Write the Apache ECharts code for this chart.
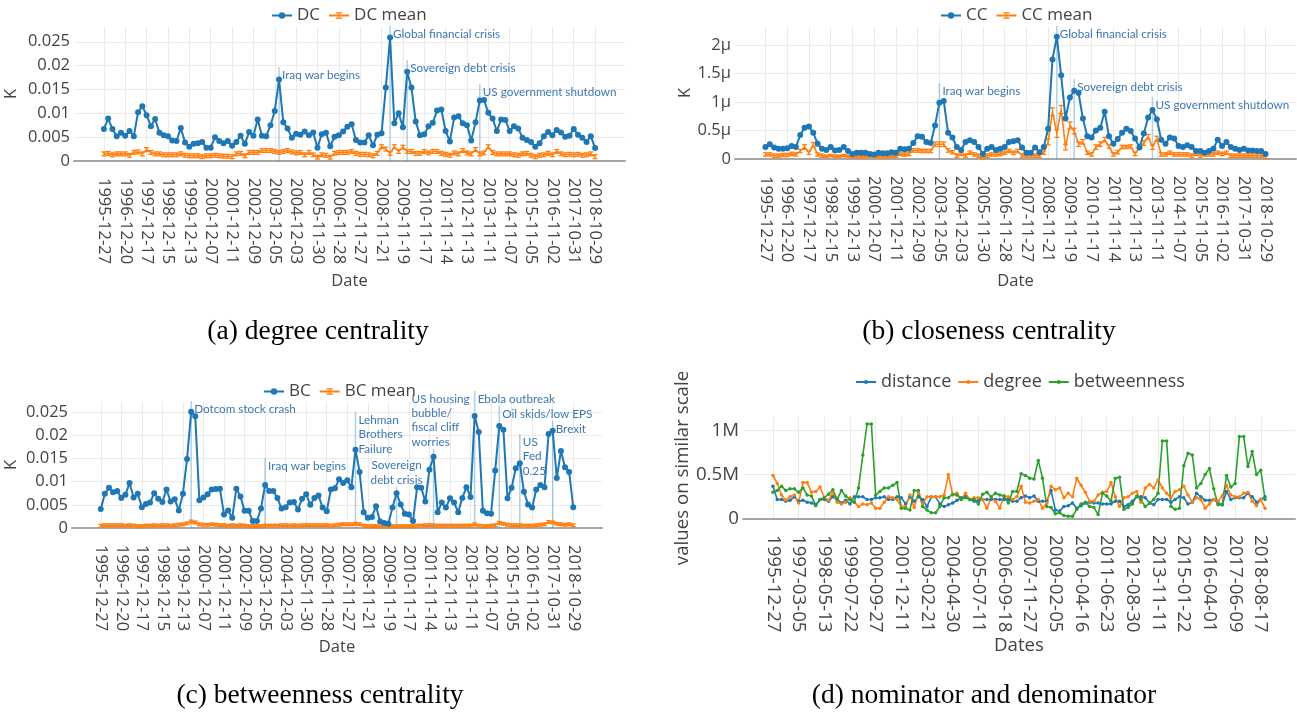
<!DOCTYPE html>
<html>
<head>
<meta charset="utf-8">
<script src="https://cdn.jsdelivr.net/npm/echarts@6/dist/echarts.min.js"></script>
<style>
  html, body { margin: 0; padding: 0; background: #ffffff; }
  #chart { width: 1297px; height: 714px; }
</style>
</head>
<body>
<div id="chart"></div>
<script>
// Sampling dates of the network snapshots
const dates = [
  '1995-12-27','1996-03-08','1996-05-20','1996-07-31','1996-10-09','1996-12-20','1997-03-05','1997-05-15','1997-07-28','1997-10-06',
  '1997-12-17','1998-03-02','1998-05-13','1998-07-24','1998-10-02','1998-12-15','1999-02-26','1999-05-11','1999-07-22','1999-09-30',
  '1999-12-13','2000-02-24','2000-05-05','2000-07-18','2000-09-27','2000-12-07','2001-02-22','2001-05-04','2001-07-17','2001-09-27',
  '2001-12-11','2002-02-25','2002-05-07','2002-07-18','2002-09-26','2002-12-09','2003-02-21','2003-05-05','2003-07-16','2003-09-24',
  '2003-12-05','2004-02-18','2004-04-30','2004-07-13','2004-09-22','2004-12-03','2005-02-16','2005-04-28','2005-07-11','2005-09-20',
  '2005-11-30','2006-02-13','2006-04-26','2006-07-07','2006-09-18','2006-11-28','2007-02-09','2007-04-24','2007-07-05','2007-09-14',
  '2007-11-27','2008-02-08','2008-04-22','2008-07-02','2008-09-12','2008-11-21','2009-02-05','2009-04-20','2009-06-30','2009-09-10',
  '2009-11-19','2010-02-03','2010-04-16','2010-06-28','2010-09-08','2010-11-17','2011-02-01','2011-04-12','2011-06-23','2011-09-02',
  '2011-11-14','2012-01-27','2012-04-10','2012-06-20','2012-08-30','2012-11-13','2013-01-28','2013-04-10','2013-06-20','2013-08-30',
  '2013-11-11','2014-01-24','2014-04-07','2014-06-17','2014-08-27','2014-11-07','2015-01-22','2015-04-06','2015-06-16','2015-08-26',
  '2015-11-05','2016-01-20','2016-04-01','2016-06-13','2016-08-23','2016-11-02','2017-01-17','2017-03-30','2017-06-09','2017-08-21',
  '2017-10-31','2018-01-12','2018-03-27','2018-06-07','2018-08-17','2018-10-29'
];

// (a) degree centrality
const dc = [
  0.0067,0.0089,0.0067,0.0052,0.0059,0.0053,0.0063,0.0052,0.0102,0.0115,
  0.0096,0.0073,0.0088,0.0059,0.0054,0.0052,0.0043,0.0042,0.0069,0.0039,
  0.0030,0.0036,0.0037,0.0040,0.0028,0.0028,0.0050,0.0042,0.0037,0.0042,
  0.0032,0.0040,0.0053,0.0036,0.0061,0.0053,0.0087,0.0053,0.0052,0.0075,
  0.0105,0.0171,0.0081,0.0068,0.0049,0.0057,0.0055,0.0062,0.0054,0.0060,
  0.0028,0.0056,0.0059,0.0031,0.0051,0.0054,0.0062,0.0072,0.0077,0.0044,
  0.0039,0.0039,0.0054,0.0033,0.0055,0.0058,0.0154,0.0259,0.0079,0.0100,
  0.0071,0.0187,0.0154,0.0083,0.0054,0.0056,0.0073,0.0080,0.0106,0.0108,
  0.0063,0.0041,0.0091,0.0094,0.0079,0.0075,0.0043,0.0081,0.0127,0.0128,
  0.0101,0.0089,0.0063,0.0087,0.0086,0.0063,0.0073,0.0068,0.0049,0.0044,
  0.0040,0.0030,0.0037,0.0052,0.0061,0.0054,0.0065,0.0060,0.0051,0.0053,
  0.0067,0.0055,0.0049,0.0040,0.0052,0.0027
];
const dcMean = [
  0.0015,0.0016,0.0013,0.0015,0.0015,0.0015,0.0012,0.0018,0.0019,0.0015,
  0.0024,0.0018,0.0015,0.0015,0.0013,0.0013,0.0013,0.0013,0.0015,0.0012,
  0.0011,0.0011,0.0011,0.0009,0.0011,0.0011,0.0012,0.0011,0.0010,0.0010,
  0.0009,0.0015,0.0016,0.0011,0.0018,0.0018,0.0018,0.0022,0.0022,0.0022,
  0.0020,0.0018,0.0020,0.0022,0.0019,0.0017,0.0018,0.0013,0.0018,0.0013,
  0.0008,0.0013,0.0012,0.0008,0.0016,0.0018,0.0018,0.0018,0.0020,0.0016,
  0.0014,0.0014,0.0013,0.0011,0.0016,0.0030,0.0025,0.0016,0.0030,0.0020,
  0.0029,0.0020,0.0020,0.0016,0.0016,0.0020,0.0017,0.0020,0.0020,0.0016,
  0.0014,0.0012,0.0017,0.0015,0.0022,0.0017,0.0015,0.0024,0.0015,0.0017,
  0.0030,0.0018,0.0015,0.0015,0.0015,0.0015,0.0013,0.0012,0.0015,0.0016,
  0.0012,0.0009,0.0012,0.0013,0.0016,0.0013,0.0020,0.0015,0.0013,0.0014,
  0.0013,0.0014,0.0012,0.0013,0.0015,0.0009
];
const dcMeanErr = 0.0004;

// (b) closeness centrality, in units of 1e-6
const cc = [
  0.21,0.26,0.20,0.18,0.18,0.19,0.23,0.21,0.42,0.55,
  0.57,0.46,0.27,0.18,0.16,0.21,0.15,0.16,0.21,0.14,
  0.09,0.11,0.11,0.11,0.09,0.08,0.11,0.10,0.10,0.12,
  0.11,0.18,0.17,0.18,0.28,0.40,0.39,0.30,0.28,0.59,
  0.99,1.02,0.46,0.38,0.21,0.16,0.30,0.33,0.30,0.21,
  0.09,0.18,0.21,0.16,0.18,0.21,0.30,0.31,0.33,0.20,
  0.11,0.11,0.20,0.12,0.21,0.53,1.75,2.15,1.47,0.71,
  1.08,1.20,1.16,0.71,0.40,0.38,0.50,0.55,0.83,0.40,
  0.27,0.35,0.46,0.53,0.49,0.36,0.20,0.45,0.73,0.86,
  0.70,0.34,0.27,0.38,0.36,0.23,0.21,0.24,0.21,0.14,
  0.14,0.11,0.14,0.18,0.34,0.23,0.30,0.21,0.18,0.16,
  0.18,0.15,0.15,0.14,0.14,0.09
];
const ccMean = [
  0.08,0.08,0.06,0.06,0.07,0.07,0.09,0.08,0.14,0.21,
  0.11,0.25,0.08,0.06,0.05,0.06,0.05,0.05,0.06,0.05,
  0.04,0.04,0.04,0.04,0.04,0.04,0.04,0.04,0.04,0.05,
  0.05,0.09,0.08,0.09,0.15,0.15,0.14,0.14,0.14,0.26,
  0.26,0.26,0.15,0.12,0.06,0.09,0.06,0.11,0.08,0.06,
  0.02,0.06,0.08,0.08,0.09,0.11,0.14,0.11,0.14,0.06,
  0.06,0.06,0.06,0.06,0.11,0.30,0.83,0.45,0.87,0.21,
  0.59,0.49,0.26,0.30,0.11,0.08,0.21,0.26,0.34,0.22,
  0.08,0.12,0.21,0.21,0.22,0.09,0.21,0.28,0.39,0.21,
  0.36,0.08,0.08,0.11,0.08,0.08,0.08,0.08,0.06,0.09,
  0.06,0.08,0.08,0.08,0.11,0.09,0.11,0.06,0.06,0.06,
  0.06,0.06,0.06,0.06,0.06,0.035
];
const ccMeanErr = [
  0.03,0.03,0.03,0.03,0.03,0.03,0.03,0.03,0.03,0.04,
  0.03,0.04,0.03,0.03,0.02,0.02,0.02,0.02,0.02,0.02,
  0.02,0.02,0.02,0.02,0.02,0.02,0.02,0.02,0.02,0.02,
  0.02,0.03,0.03,0.03,0.03,0.03,0.03,0.03,0.03,0.04,
  0.04,0.04,0.03,0.03,0.03,0.03,0.03,0.03,0.03,0.03,
  0.02,0.03,0.03,0.03,0.03,0.03,0.03,0.03,0.03,0.03,
  0.03,0.03,0.03,0.03,0.03,0.05,0.07,0.07,0.07,0.05,
  0.06,0.05,0.04,0.04,0.03,0.03,0.04,0.04,0.04,0.03,
  0.03,0.03,0.03,0.03,0.03,0.03,0.03,0.04,0.04,0.04,
  0.04,0.03,0.03,0.03,0.03,0.03,0.03,0.03,0.03,0.03,
  0.03,0.03,0.03,0.03,0.03,0.03,0.03,0.03,0.03,0.03,
  0.03,0.03,0.03,0.03,0.03,0.03
];

// (c) betweenness centrality
const bc = [
  0.0041,0.0074,0.0087,0.0077,0.0080,0.0065,0.0072,0.0097,0.0066,0.0074,
  0.0045,0.0052,0.0055,0.0075,0.0063,0.0056,0.0083,0.0057,0.0062,0.0038,
  0.0074,0.0149,0.0251,0.0241,0.0060,0.0066,0.0073,0.0083,0.0084,0.0085,
  0.0029,0.0038,0.0022,0.0085,0.0068,0.0037,0.0037,0.0015,0.0015,0.0042,
  0.0093,0.0080,0.0080,0.0065,0.0042,0.0045,0.0055,0.0056,0.0040,0.0063,
  0.0073,0.0050,0.0065,0.0070,0.0044,0.0036,0.0083,0.0086,0.0105,0.0097,
  0.0103,0.0088,0.0169,0.0121,0.0034,0.0022,0.0024,0.0047,0.0014,0.0011,
  0.0009,0.0044,0.0075,0.0051,0.0031,0.0029,0.0015,0.0088,0.0087,0.0057,
  0.0126,0.0154,0.0034,0.0055,0.0044,0.0064,0.0055,0.0034,0.0065,0.0088,
  0.0067,0.0242,0.0207,0.0037,0.0032,0.0031,0.0124,0.0220,0.0212,0.0064,
  0.0087,0.0129,0.0140,0.0078,0.0051,0.0044,0.0083,0.0093,0.0088,0.0203,
  0.0210,0.0108,0.0166,0.0131,0.0121,0.0045
];
const bcMean = [
  0.0005,0.0006,0.0006,0.0006,0.0006,0.0006,0.0005,0.0006,0.0005,0.0004,
  0.0004,0.0005,0.0005,0.0006,0.0005,0.0006,0.0006,0.0005,0.0006,0.0007,
  0.0008,0.0010,0.0014,0.0012,0.0008,0.0007,0.0007,0.0008,0.0007,0.0006,
  0.0006,0.0005,0.0006,0.0005,0.0006,0.0005,0.0004,0.0004,0.0004,0.0004,
  0.0005,0.0005,0.0005,0.0005,0.0006,0.0006,0.0005,0.0006,0.0005,0.0006,
  0.0006,0.0006,0.0006,0.0006,0.0006,0.0006,0.0005,0.0006,0.0007,0.0008,
  0.0008,0.0008,0.0009,0.0008,0.0005,0.0004,0.0004,0.0004,0.0003,0.0003,
  0.0003,0.0004,0.0004,0.0004,0.0004,0.0004,0.0004,0.0005,0.0005,0.0006,
  0.0006,0.0006,0.0005,0.0005,0.0005,0.0005,0.0005,0.0005,0.0005,0.0005,
  0.0005,0.0008,0.0005,0.0004,0.0004,0.0005,0.0006,0.0011,0.0009,0.0007,
  0.0006,0.0006,0.0006,0.0005,0.0005,0.0005,0.0006,0.0007,0.0008,0.0013,
  0.0012,0.0009,0.0008,0.0007,0.0008,0.0006
];
const bcMeanErr = 0.0003;

// (d) nominator and denominator, in millions
const distance = [
  0.37,0.22,0.22,0.20,0.21,0.25,0.20,0.21,0.19,0.18,
  0.16,0.22,0.22,0.20,0.25,0.22,0.18,0.21,0.17,0.25,
  0.25,0.25,0.22,0.22,0.24,0.24,0.25,0.22,0.22,0.25,
  0.24,0.17,0.25,0.20,0.25,0.22,0.14,0.25,0.25,0.17,
  0.14,0.16,0.18,0.21,0.24,0.25,0.22,0.20,0.21,0.22,
  0.22,0.22,0.22,0.22,0.22,0.22,0.20,0.20,0.24,0.26,
  0.24,0.26,0.20,0.20,0.20,0.32,0.10,0.09,0.14,0.15,
  0.18,0.12,0.15,0.18,0.19,0.18,0.18,0.17,0.17,0.17,
  0.20,0.20,0.14,0.16,0.20,0.25,0.25,0.24,0.18,0.16,
  0.22,0.22,0.22,0.19,0.22,0.25,0.24,0.17,0.19,0.29,
  0.25,0.21,0.21,0.22,0.18,0.16,0.31,0.22,0.24,0.24,
  0.24,0.29,0.25,0.19,0.22,0.25
];
const degree = [
  0.49,0.40,0.27,0.21,0.25,0.27,0.18,0.41,0.41,0.30,
  0.31,0.36,0.24,0.21,0.30,0.19,0.17,0.19,0.24,0.19,
  0.14,0.17,0.16,0.18,0.12,0.12,0.19,0.25,0.24,0.22,
  0.14,0.14,0.27,0.13,0.29,0.17,0.25,0.25,0.25,0.25,
  0.27,0.50,0.27,0.29,0.22,0.29,0.22,0.24,0.24,0.22,
  0.12,0.25,0.20,0.12,0.26,0.25,0.22,0.25,0.37,0.19,
  0.18,0.20,0.22,0.12,0.18,0.37,0.33,0.35,0.24,0.29,
  0.25,0.46,0.38,0.30,0.20,0.20,0.27,0.30,0.31,0.41,
  0.25,0.14,0.24,0.25,0.29,0.31,0.19,0.35,0.39,0.35,
  0.44,0.35,0.29,0.24,0.31,0.33,0.37,0.27,0.19,0.24,
  0.22,0.12,0.17,0.22,0.20,0.26,0.38,0.27,0.25,0.25,
  0.29,0.30,0.20,0.15,0.22,0.12
];
const betweenness = [
  0.30,0.32,0.37,0.32,0.34,0.34,0.30,0.35,0.27,0.26,
  0.15,0.22,0.24,0.28,0.33,0.22,0.32,0.26,0.22,0.19,
  0.35,0.72,1.07,1.07,0.27,0.31,0.35,0.35,0.38,0.41,
  0.12,0.12,0.10,0.32,0.32,0.14,0.10,0.07,0.07,0.14,
  0.24,0.24,0.28,0.27,0.22,0.24,0.22,0.22,0.17,0.28,
  0.30,0.25,0.29,0.27,0.26,0.18,0.31,0.31,0.51,0.49,
  0.46,0.45,0.66,0.46,0.14,0.13,0.06,0.07,0.04,0.03,
  0.03,0.11,0.17,0.19,0.14,0.13,0.05,0.29,0.26,0.20,
  0.46,0.47,0.11,0.13,0.17,0.26,0.22,0.14,0.18,0.22,
  0.29,0.88,0.88,0.14,0.11,0.12,0.60,0.74,0.72,0.35,
  0.40,0.50,0.57,0.34,0.16,0.16,0.49,0.36,0.40,0.93,
  0.93,0.59,0.76,0.50,0.55,0.22
];

// Event annotations (index into dates)
const dcEvents = [
  { label: 'Iraq war begins', at: 41 },
  { label: 'Global financial crisis', at: 67 },
  { label: 'Sovereign debt crisis', at: 71 },
  { label: 'US government shutdown', at: 88 }
];
const ccEvents = [
  { label: 'Iraq war begins', at: 40 },
  { label: 'Global financial crisis', at: 67 },
  { label: 'Sovereign debt crisis', at: 71 },
  { label: 'US government shutdown', at: 89 }
];
const bcEvents = [
  { label: 'Dotcom stock crash', at: 22 },
  { label: 'Iraq war begins', at: 40 },
  { label: 'Lehman\nBrothers\nFailure', at: 62 },
  { label: 'Sovereign\ndebt crisis', at: 72 },
  { label: 'US housing\nbubble/\nfiscal cliff\nworries', at: 81 },
  { label: 'Ebola outbreak', at: 91 },
  { label: 'Oil skids/low EPS', at: 97 },
  { label: 'US\nFed\n0.25', at: 102 },
  { label: 'Brexit', at: 110 }
];

// Annotation leader heights (px above the baseline) and text placement
const dcRise = [94, 135, 101, 77];
const ccRise = [76, 133, 80, 62];
const bcRise = [127, 70, 116, 41, 79, 137, 122, 94, 107];
const bcPlace = ['right', 'right', 'right', 'above', 'aboveLeft', 'right', 'right', 'right', 'right'];

// ---------------------------------------------------------------------
const PAD = 7;  // empty slots on both ends of the category axis
const xCats = [].concat(Array(PAD).fill(''), dates, Array(PAD).fill(''));
const BLUE = '#1f77b4', ORANGE = '#ff7f0e', GREEN = '#2ca02c';
const TXT = '#444444';
const SANS = '"Open Sans", "Noto Sans", sans-serif';
const IBEAM = 'path://M0,0H10V2H6V8H10V10H0V8H4V2H0Z';
const NOTE_FONT = 11.7;

const grids = [
  { left: 74,  top: 27,  width: 551, height: 134 },
  { left: 735, top: 27,  width: 561, height: 132 },
  { left: 72,  top: 402, width: 530, height: 126 },
  { left: 743, top: 417, width: 552, height: 102 }
];

function pairs(arr) { return arr.map((v, i) => [i + PAD, v]); }

function xAxisFor(g, step, name, fs, nameGap, margin) {
  const shown = i => i >= PAD && i < PAD + dates.length && (i - PAD) % step === 0;
  return {
    type: 'category', gridIndex: g, data: xCats, boundaryGap: false,
    name: name, nameLocation: 'middle', nameGap: nameGap,
    nameTextStyle: { fontSize: fs, color: TXT, fontFamily: SANS },
    axisLine: { show: true, onZero: true, lineStyle: { color: '#a6a6a6', width: 2 } },
    axisTick: { show: false },
    axisLabel: { interval: (i) => shown(i), rotate: -90, margin: margin, fontSize: fs, color: TXT, fontFamily: SANS },
    splitLine: { show: true, interval: (i) => shown(i), lineStyle: { color: '#ebebeb', width: 1 } }
  };
}

function yAxisFor(g, max, interval, name, fs, nameGap, fmt) {
  return {
    type: 'value', gridIndex: g, min: 0, max: max, interval: interval,
    name: name, nameLocation: 'middle', nameGap: nameGap, nameRotate: 90,
    nameTextStyle: { fontSize: fs, color: TXT, fontFamily: SANS },
    axisLine: { show: false }, axisTick: { show: false },
    axisLabel: { margin: 4, fontSize: fs, color: TXT, fontFamily: SANS, formatter: fmt, showMaxLabel: false },
    splitLine: { show: true, showMaxLine: false, lineStyle: { color: '#ebebeb', width: 1 } }
  };
}

function mainLine(g, name, values, color, width, size) {
  return {
    type: 'line', name: name, xAxisIndex: g, yAxisIndex: g, data: pairs(values),
    symbol: 'circle', symbolSize: size, showSymbol: true, showAllSymbol: true,
    lineStyle: { color: color, width: width }, itemStyle: { color: color },
    z: 4
  };
}

function meanLine(g, name, values) {
  return {
    type: 'line', name: name, xAxisIndex: g, yAxisIndex: g, data: pairs(values),
    symbol: IBEAM, symbolSize: 1, showSymbol: false,
    lineStyle: { color: ORANGE, width: 1.6 }, itemStyle: { color: ORANGE },
    z: 3
  };
}

function errorBars(g, values, err) {
  return {
    type: 'custom', xAxisIndex: g, yAxisIndex: g, silent: true, z: 3,
    encode: { x: 0, y: [1, 2] },
    data: values.map((v, i) => {
      const e = Array.isArray(err) ? err[i] : err;
      return [i + PAD, v - e, v + e];
    }),
    renderItem(params, api) {
      const lo = api.coord([api.value(0), api.value(1)]);
      const hi = api.coord([api.value(0), api.value(2)]);
      const w = 2.5;
      const st = { stroke: ORANGE, lineWidth: 1.3 };
      return {
        type: 'group', children: [
          { type: 'line', shape: { x1: lo[0], y1: lo[1], x2: hi[0], y2: hi[1] }, style: st },
          { type: 'line', shape: { x1: lo[0] - w, y1: lo[1], x2: lo[0] + w, y2: lo[1] }, style: st },
          { type: 'line', shape: { x1: hi[0] - w, y1: hi[1], x2: hi[0] + w, y2: hi[1] }, style: st }
        ]
      };
    }
  };
}

function eventMarks(g, events, rise, place) {
  return {
    type: 'custom', xAxisIndex: g, yAxisIndex: g, silent: true, clip: false, z: 2,
    data: events.map(e => [e.at + PAD, 0]),
    renderItem(params, api) {
      const k = params.dataIndex;
      const base = api.coord([api.value(0), 0]);
      const topY = base[1] - rise[k];
      const mode = place ? place[k] : 'right';
      let tx = base[0] + 3, ty = topY + 1, align = 'left', valign = 'top';
      if (mode === 'above') { tx = base[0]; ty = topY; align = 'center'; valign = 'bottom'; }
      if (mode === 'aboveLeft') { tx = base[0] - 22; ty = topY; valign = 'bottom'; }
      return {
        type: 'group', children: [
          { type: 'line', shape: { x1: base[0], y1: base[1], x2: base[0], y2: topY },
            style: { stroke: 'rgba(31,119,180,0.35)', lineWidth: 1.5 } },
          { type: 'text', x: tx, y: ty,
            style: { text: events[k].label, fill: '#3b78b4', fontSize: NOTE_FONT, fontFamily: 'Lato',
                     lineHeight: 14.3, align: align, verticalAlign: valign } }
        ]
      };
    }
  };
}

function legendFor(left, top, names, fs, ih, gap) {
  return {
    left: left, top: top, padding: 0, itemGap: gap, itemWidth: 20, itemHeight: ih,
    textStyle: { fontSize: fs, color: TXT, fontFamily: SANS },
    data: names
  };
}

const fsA = 16.5, fsD = 18.7;
const micro = v => v === 0 ? '0' : (+v.toFixed(2)) + 'μ';
const mega = v => v === 0 ? '0' : (+v.toFixed(2)) + 'M';

const option = {
  animation: false,
  backgroundColor: '#ffffff',
  grid: grids,
  legend: [
    legendFor(271, 7, ['DC', 'DC mean'], 17, 8, 8),
    legendFor(940, 7, ['CC', 'CC mean'], 17, 8, 8),
    legendFor(263, 383, ['BC', 'BC mean'], 17, 8, 8),
    legendFor(855, 373, ['distance', 'degree', 'betweenness'], 18, 5, 6)
  ],
  xAxis: [
    xAxisFor(0, 5, 'Date', fsA, 112, 17),
    xAxisFor(1, 5, 'Date', fsA, 114, 17),
    xAxisFor(2, 5, 'Date', fsA, 111, 17),
    xAxisFor(3, 6, 'Dates', fsD, 116, 16)
  ],
  yAxis: [
    yAxisFor(0, 0.0281, 0.005, 'K', fsA, 54, null),
    yAxisFor(1, 2.32, 0.5, 'K', fsA, 40, micro),
    yAxisFor(2, 0.0272, 0.005, 'K', fsA, 52, null),
    yAxisFor(3, 1.149, 0.5, 'values on similar scale', fsD, 45, mega)
  ],
  series: [
    eventMarks(0, dcEvents, dcRise, null),
    mainLine(0, 'DC', dc, BLUE, 2, 6),
    meanLine(0, 'DC mean', dcMean),
    errorBars(0, dcMean, dcMeanErr),

    eventMarks(1, ccEvents, ccRise, null),
    mainLine(1, 'CC', cc, BLUE, 2, 6),
    meanLine(1, 'CC mean', ccMean),
    errorBars(1, ccMean, ccMeanErr),

    eventMarks(2, bcEvents, bcRise, bcPlace),
    mainLine(2, 'BC', bc, BLUE, 2, 6),
    meanLine(2, 'BC mean', bcMean),
    errorBars(2, bcMean, bcMeanErr),

    mainLine(3, 'distance', distance, BLUE, 1.6, 3.5),
    mainLine(3, 'degree', degree, ORANGE, 1.6, 3.5),
    mainLine(3, 'betweenness', betweenness, GREEN, 1.6, 3.5)
  ],
  graphic: [
    { type: 'text', x: 318, y: 332, style: { text: '(a) degree centrality', fontSize: 27.5, fontFamily: '"Liberation Serif", serif', fill: '#000', align: 'center', verticalAlign: 'middle' } },
    { type: 'text', x: 989, y: 332, style: { text: '(b) closeness centrality', fontSize: 27.5, fontFamily: '"Liberation Serif", serif', fill: '#000', align: 'center', verticalAlign: 'middle' } },
    { type: 'text', x: 320, y: 696, style: { text: '(c) betweenness centrality', fontSize: 27.5, fontFamily: '"Liberation Serif", serif', fill: '#000', align: 'center', verticalAlign: 'middle' } },
    { type: 'text', x: 984, y: 696, style: { text: '(d) nominator and denominator', fontSize: 27.5, fontFamily: '"Liberation Serif", serif', fill: '#000', align: 'center', verticalAlign: 'middle' } }
  ]
};

const chart = echarts.init(document.getElementById('chart'), null, { renderer: 'canvas' });
chart.setOption(option);
</script>
</body>
</html>
